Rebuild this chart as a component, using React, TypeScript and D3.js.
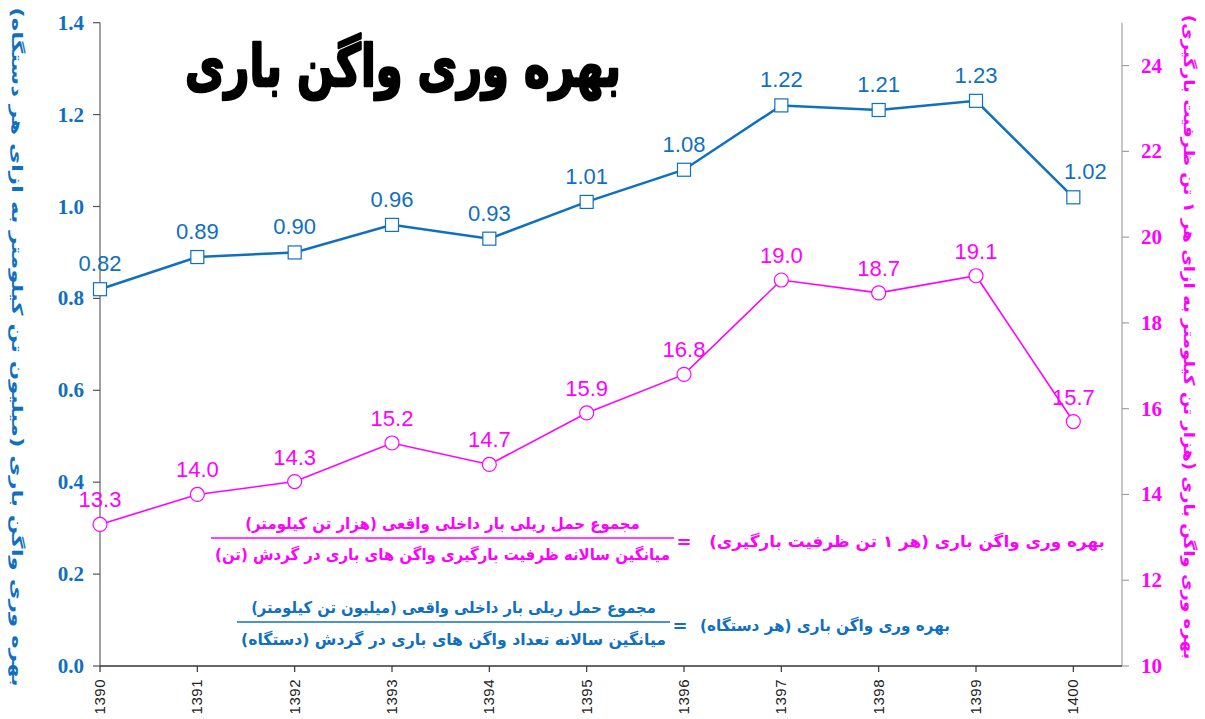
import React, { useLayoutEffect, useRef, useState } from "react";
import * as d3 from "d3";

const years = [1390, 1391, 1392, 1393, 1394, 1395, 1396, 1397, 1398, 1399, 1400];
const perWagon = [0.82, 0.89, 0.9, 0.96, 0.93, 1.01, 1.08, 1.22, 1.21, 1.23, 1.02];
const perTon = [13.3, 14.0, 14.3, 15.2, 14.7, 15.9, 16.8, 19.0, 18.7, 19.1, 15.7];
const leftTicks = [0, 0.2, 0.4, 0.6, 0.8, 1.0, 1.2, 1.4];
const rightTicks = [10, 12, 14, 16, 18, 20, 22, 24];

const title = "بهره وری واگن باری";
const leftAxisTitle = "بهره وری واگن باری (میلیون تن کیلومتر به ازای هر دستگاه)";
const rightAxisTitle = "بهره وری واگن باری (هزار تن کیلومتر به ازای هر ۱ تن ظرفیت بارگیری)";
const tonFormula = {
  label: "بهره وری واگن باری (هر ۱ تن ظرفیت بارگیری)",
  num: "مجموع حمل ریلی بار داخلی واقعی (هزار تن کیلومتر)",
  den: "میانگین سالانه ظرفیت بارگیری واگن های باری در گردش (تن)",
};
const wagonFormula = {
  label: "بهره وری واگن باری (هر دستگاه)",
  num: "مجموع حمل ریلی بار داخلی واقعی (میلیون تن کیلومتر)",
  den: "میانگین سالانه تعداد واگن های باری در گردش (دستگاه)",
};

const BLUE = "#0f70c0";
const MAG = "#ff00ff";
const AR = "'DejaVu Sans', sans-serif";
const SERIF = "'Liberation Serif', 'Times New Roman', serif";
const SANS = "'Liberation Sans', Arial, sans-serif";

type FitProps = {
  cx: number;
  cy: number;
  width: number;
  rotate?: number;
  children: string;
  fill: string;
  fontSize: number;
  stroke?: string;
  strokeWidth?: number;
};

function FitText({ cx, cy, width, rotate = 0, children, fill, fontSize, stroke, strokeWidth }: FitProps) {
  const ref = useRef<SVGTextElement>(null);
  const [s, setS] = useState(1);
  useLayoutEffect(() => {
    if (ref.current) {
      const w = ref.current.getComputedTextLength();
      if (w > 0) setS(width / w);
    }
  }, [width, children, fontSize]);
  return (
    <g transform={`translate(${cx},${cy}) rotate(${rotate}) scale(${s},1)`}>
      <text ref={ref} x={0} y={0} textAnchor="middle" dominantBaseline="central" fill={fill}
        fontFamily={AR} fontWeight="bold" fontSize={fontSize} stroke={stroke}
        strokeWidth={strokeWidth} strokeLinejoin="round"
        style={{ direction: "rtl", unicodeBidi: "embed" }}>{children}</text>
    </g>
  );
}

export default function App() {
  const W = 1205, H = 719;
  const x = d3.scaleLinear().domain([1390, 1400.5]).range([100, 1122]);
  const yL = d3.scaleLinear().domain([0, 1.4]).range([666, 22.7]);
  const yR = d3.scaleLinear().domain([10, 25]).range([666, 22.7]);

  const lineL = d3.line<number>().x((_, i) => x(years[i])).y((d) => yL(d));
  const lineR = d3.line<number>().x((_, i) => x(years[i])).y((d) => yR(d));

  const formula = (
    f: { label: string; num: string; den: string },
    color: string,
    o: { x0: number; x1: number; ly: number; numW: number; denW: number; lab1: number; labW: number }
  ) => {
    const cx = (o.x0 + o.x1) / 2;
    return (
      <g>
        <FitText cx={cx} cy={o.ly - 14} width={o.numW} fill={color} fontSize={16}>{f.num}</FitText>
        <line x1={o.x0} x2={o.x1} y1={o.ly} y2={o.ly} stroke={color} strokeWidth={1.5} />
        <FitText cx={cx} cy={o.ly + 17} width={o.denW} fill={color} fontSize={16}>{f.den}</FitText>
        <text x={o.x1 + 10} y={o.ly + 3} textAnchor="middle" dominantBaseline="central"
          fontFamily={AR} fontWeight="bold" fontSize={18} fill={color}>=</text>
        <FitText cx={o.lab1 - o.labW / 2} cy={o.ly + 4} width={o.labW} fill={color} fontSize={16}>{f.label}</FitText>
      </g>
    );
  };

  return (
    <svg width={W} height={H} style={{ position: "absolute", left: 0, top: 0, background: "#fff" }}>
      {/* axes */}
      <line x1={100} x2={100} y1={22.7} y2={666} stroke="#808080" strokeWidth={1.5} />
      <line x1={1122} x2={1122} y1={22.7} y2={666} stroke="#a0a0a0" strokeWidth={1.2} />
      <line x1={100} x2={1122} y1={666} y2={666} stroke="#333" strokeWidth={1.5} />
      {leftTicks.map((t) => (
        <g key={"l" + t}>
          <line x1={93} x2={100} y1={yL(t)} y2={yL(t)} stroke="#555" strokeWidth={1.2} />
          <text x={84} y={yL(t)} textAnchor="end" dominantBaseline="central" fill={BLUE}
            fontFamily={SERIF} fontWeight="bold" fontSize={21}>{t.toFixed(1)}</text>
        </g>
      ))}
      {rightTicks.map((t) => (
        <g key={"r" + t}>
          <line x1={1122} x2={1129} y1={yR(t)} y2={yR(t)} stroke="#a0a0a0" strokeWidth={1.2} />
          <text x={1141} y={yR(t)} textAnchor="start" dominantBaseline="central" fill={MAG}
            fontFamily={SERIF} fontWeight="bold" fontSize={21}>{t}</text>
        </g>
      ))}
      {years.map((yv) => (
        <g key={"x" + yv}>
          <line x1={x(yv)} x2={x(yv)} y1={666} y2={672} stroke="#333" strokeWidth={1.2} />
          <text transform={`translate(${x(yv) + 5},${679}) rotate(-90)`} textAnchor="end"
            fontFamily={SANS} fontSize={15} letterSpacing={0.5} fill="#222">{yv}</text>
        </g>
      ))}

      {/* axis titles */}
      <FitText cx={17} cy={347} rotate={90} width={680} fill={BLUE} fontSize={15}>{leftAxisTitle}</FitText>
      <FitText cx={1189} cy={337} rotate={90} width={645} fill={MAG} fontSize={15}>{rightAxisTitle}</FitText>

      {/* title */}
      <FitText cx={403} cy={66} width={436} fill="#000" fontSize={58} stroke="#000" strokeWidth={2.5}>{title}</FitText>

      {/* series: per ton */}
      <path d={lineR(perTon) || ""} fill="none" stroke={MAG} strokeWidth={1.6} />
      {perTon.map((v, i) => (
        <g key={"m" + i}>
          <circle cx={x(years[i])} cy={yR(v)} r={7} fill="#fff" stroke={MAG} strokeWidth={1.2} />
          <text x={x(years[i])} y={yR(v) - 17} textAnchor="middle" fill={MAG} fontFamily={SANS}
            fontSize={22}>{v.toFixed(1)}</text>
        </g>
      ))}

      {/* series: per wagon */}
      <path d={lineL(perWagon) || ""} fill="none" stroke={BLUE} strokeWidth={2.5} />
      {perWagon.map((v, i) => (
        <g key={"b" + i}>
          <rect x={x(years[i]) - 6.5} y={yL(v) - 6.5} width={13} height={13} fill="#fff" stroke={BLUE} strokeWidth={1.2} />
          <text x={x(years[i]) + (i === years.length - 1 ? 12 : 0)} y={yL(v) - 18} textAnchor="middle" fill={BLUE}
            fontFamily={SANS} fontSize={22}>{v.toFixed(2)}</text>
        </g>
      ))}

      {/* formulas */}
      {formula(tonFormula, MAG, { x0: 211, x1: 674, ly: 538, numW: 395, denW: 455, lab1: 1105, labW: 396 })}
      {formula(wagonFormula, BLUE, { x0: 237, x1: 670, ly: 622, numW: 405, denW: 425, lab1: 950, labW: 250 })}
    </svg>
  );
}
